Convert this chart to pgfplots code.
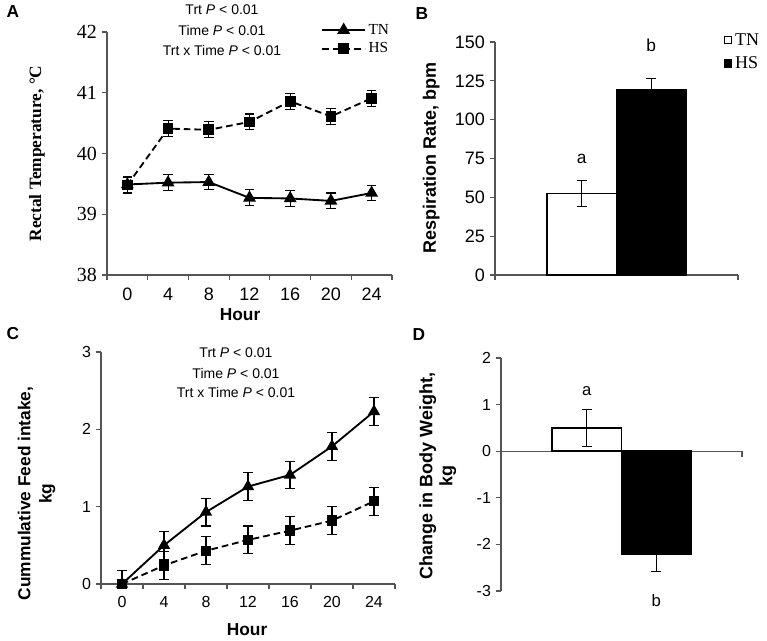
\documentclass[border=0pt]{standalone}
\usepackage{fontspec}
\setmainfont{Liberation Serif}
\setsansfont{Liberation Sans}
\usepackage{pgfplots}
\pgfplotsset{compat=1.18}
\definecolor{axisgray}{RGB}{85,85,85}

\pgfplotsset{
  panel/.style={
    scale only axis, clip=false, anchor=south west,
    axis x line*=bottom, axis y line*=left,
    axis line style={axisgray, line width=0.8pt},
    tick style={axisgray, line width=0.8pt},
    tick align=outside, major tick length=4pt,
    /pgf/number format/assume math mode=true,
    every axis y label/.style={rotate=90, anchor=center, align=center},
    every axis x label/.style={anchor=center},
  },
  hours/.style={
    xmin=-0.5, xmax=6.5,
    xtick={-0.5,0.5,...,6.5}, xticklabels={},
    extra x ticks={0,1,2,3,4,5,6},
    extra x tick labels={0,4,8,12,16,20,24},
    extra x tick style={major tick length=0pt},
  },
  errs/.style={
    error bars/.cd, y dir=both, y explicit,
    error bar style={line width=0.8pt, black, solid},
    error mark options={rotate=90, mark size=3.6pt, line width=0.8pt, black, solid},
  },
  linelegend/.style={
    legend image code/.code={\draw[mark repeat=2, mark phase=2, ##1]
      plot coordinates {(0pt,0pt) (16pt,0pt) (32pt,0pt)};},
  },
  barlegend/.style={
    legend image code/.code={\draw[##1, line width=0.8pt]
      (0pt,-2.8pt) rectangle (5.4pt,2.8pt);},
  },
}

\begin{document}
\begin{tikzpicture}
\path[use as bounding box] (0,0) rectangle (575.25pt,480pt);

% ---- A: rectal temperature
\begin{axis}[panel, hours, at={(80.25pt,273.75pt)},
  width=213.75pt, height=182.25pt,
  ymin=38, ymax=42, ytick={38,39,40,41,42},
  yticklabel style={font=\rmfamily\fontsize{15}{17}\selectfont},
  xticklabel style={font=\sffamily\fontsize{13.5}{15}\selectfont, yshift=-6pt},
  ylabel={Rectal Temperature, °C},
  ylabel style={at={(axis description cs:-0.246,0.5)}, font=\rmfamily\bfseries\fontsize{13}{15}\selectfont},
  xlabel={Hour},
  xlabel style={at={(axis description cs:0.467,-0.165)}, font=\sffamily\bfseries\fontsize{13}{15}\selectfont},
  linelegend,
  legend style={at={(1.0,1.045)}, anchor=north east, draw=none, fill=none,
    inner sep=0pt, row sep=1pt, font=\rmfamily\fontsize{11.5}{13}\selectfont},
  legend cell align=left,
]
\addplot[black, line width=1.4pt, mark=triangle*, mark size=4.2pt,
  mark options={solid}, errs] coordinates {
  (0,39.49) +- (0,0.13)
  (1,39.52) +- (0,0.13)
  (2,39.53) +- (0,0.13)
  (3,39.27) +- (0,0.13)
  (4,39.26) +- (0,0.13)
  (5,39.22) +- (0,0.13)
  (6,39.35) +- (0,0.13)
};
\addlegendentry{TN}
\addplot[black, line width=1.4pt, dash pattern=on 5pt off 3pt, mark=square*, mark size=3.3pt,
  mark options={solid}, errs] coordinates {
  (0,39.48) +- (0,0.13)
  (1,40.41) +- (0,0.13)
  (2,40.39) +- (0,0.13)
  (3,40.52) +- (0,0.13)
  (4,40.86) +- (0,0.13)
  (5,40.61) +- (0,0.13)
  (6,40.91) +- (0,0.13)
};
\addlegendentry{HS}
\end{axis}
\node[font=\sffamily\fontsize{10.5}{12}\selectfont] at (166.5pt,472.5pt) {Trt \textit{P} < 0.01};
\node[font=\sffamily\fontsize{10.5}{12}\selectfont] at (166.5pt,457.5pt) {Time \textit{P} < 0.01};
\node[font=\sffamily\fontsize{10.5}{12}\selectfont] at (166.5pt,442.5pt) {Trt x Time \textit{P} < 0.01};

% ---- B: respiration rate
\begin{axis}[panel, at={(371.25pt,273.75pt)},
  width=182.25pt, height=174.75pt,
  ybar=0pt, bar width=0.286,
  xmin=-0.5, xmax=0.5, xtick={-0.5,0.5}, xticklabels={},
  ymin=0, ymax=150, ytick={0,25,...,150},
  yticklabel style={font=\sffamily\fontsize{13.5}{15}\selectfont},
  ylabel={Respiration Rate, bpm},
  ylabel style={at={(axis description cs:-0.262,0.502)}, font=\sffamily\bfseries\fontsize{13.5}{15}\selectfont},
  barlegend,
  legend style={at={(1.099,1.05)}, anchor=north east, draw=none, fill=none,
    inner sep=0pt, row sep=3pt, font=\rmfamily\fontsize{13.5}{15}\selectfont},
  legend cell align=left,
]
\addplot[fill=white, draw=black, line width=1.2pt, errs] coordinates {(0,52.5) +- (0,8.6)};
\addlegendentry{TN}
\addplot[fill=black, draw=black, line width=1.2pt, errs] coordinates {(0,119) +- (0,7.8)};
\addlegendentry{HS}
\node[font=\sffamily\fontsize{13}{15}\selectfont] at (axis cs:-0.143,75) {a};
\node[font=\sffamily\fontsize{13}{15}\selectfont] at (axis cs:0.143,148) {b};
\end{axis}
\node[font=\sffamily\bfseries\fontsize{13}{15}\selectfont] at (9.75pt,471pt) {A};
\node[font=\sffamily\bfseries\fontsize{13}{15}\selectfont] at (316.5pt,469.5pt) {B};

% ---- C: cumulative feed intake
\begin{axis}[panel, hours, at={(75.75pt,42pt)},
  width=220.5pt, height=174pt,
  ymin=0, ymax=3, ytick={0,1,2,3},
  ticklabel style={font=\sffamily\fontsize{12}{14}\selectfont},
  xticklabel style={yshift=-6pt},
  ylabel={Cummulative Feed intake,\\kg},
  ylabel style={at={(axis description cs:-0.219,0.39)}, font=\sffamily\bfseries\fontsize{13}{16}\selectfont},
  xlabel={Hour},
  xlabel style={at={(axis description cs:0.497,-0.195)}, font=\sffamily\bfseries\fontsize{13}{15}\selectfont},
]
\addplot[black, line width=1.4pt, mark=triangle*, mark size=4pt,
  mark options={solid}, errs] coordinates {
  (0,0) += (0,0.17) -= (0,0)
  (1,0.50) +- (0,0.18)
  (2,0.93) +- (0,0.18)
  (3,1.26) +- (0,0.18)
  (4,1.41) +- (0,0.18)
  (5,1.78) +- (0,0.18)
  (6,2.23) +- (0,0.18)
};
\addplot[black, line width=1.4pt, dash pattern=on 5pt off 3pt, mark=square*, mark size=3.2pt,
  mark options={solid}, errs] coordinates {
  (0,0) += (0,0.17) -= (0,0)
  (1,0.24) +- (0,0.18)
  (2,0.43) +- (0,0.18)
  (3,0.57) +- (0,0.18)
  (4,0.69) +- (0,0.18)
  (5,0.82) +- (0,0.18)
  (6,1.07) +- (0,0.18)
};
\end{axis}
\node[font=\sffamily\fontsize{10.5}{12}\selectfont] at (177pt,215.25pt) {Trt \textit{P} < 0.01};
\node[font=\sffamily\fontsize{10.5}{12}\selectfont] at (177pt,200.25pt) {Time \textit{P} < 0.01};
\node[font=\sffamily\fontsize{10.5}{12}\selectfont] at (177pt,186pt) {Trt x Time \textit{P} < 0.01};

% ---- D: change in body weight
\begin{axis}[panel, at={(375.75pt,36.75pt)},
  width=180.75pt, height=174.75pt,
  axis x line*=middle,
  ybar=0pt, bar width=0.288,
  xmin=-0.5, xmax=0.5, xtick={-0.5,0.5}, xticklabels={},
  ymin=-3, ymax=2, ytick={-3,-2,-1,0,1,2},
  yticklabels={-3,-2,-1,0,1,2},
  yticklabel style={font=\sffamily\fontsize{12}{14}\selectfont},
  ylabel={Change in Body Weight,\\kg},
  ylabel style={at={(axis description cs:-0.262,0.494)}, font=\sffamily\bfseries\fontsize{13.5}{15}\selectfont},
]
\addplot[fill=white, draw=black, line width=1.2pt, errs] coordinates {(0,0.5) +- (0,0.39)};
\addplot[fill=black, draw=black, line width=1.2pt, errs] coordinates {(0,-2.21) +- (0,0.38)};
\node[font=\sffamily\fontsize{12.5}{14}\selectfont] at (axis cs:-0.144,1.29) {a};
\node[font=\sffamily\fontsize{12.5}{14}\selectfont] at (axis cs:0.144,-3.2) {b};
\end{axis}
\node[font=\sffamily\bfseries\fontsize{13}{15}\selectfont] at (9.75pt,229.5pt) {C};
\node[font=\sffamily\bfseries\fontsize{13}{15}\selectfont] at (314.25pt,228.75pt) {D};
\end{tikzpicture}
\end{document}
